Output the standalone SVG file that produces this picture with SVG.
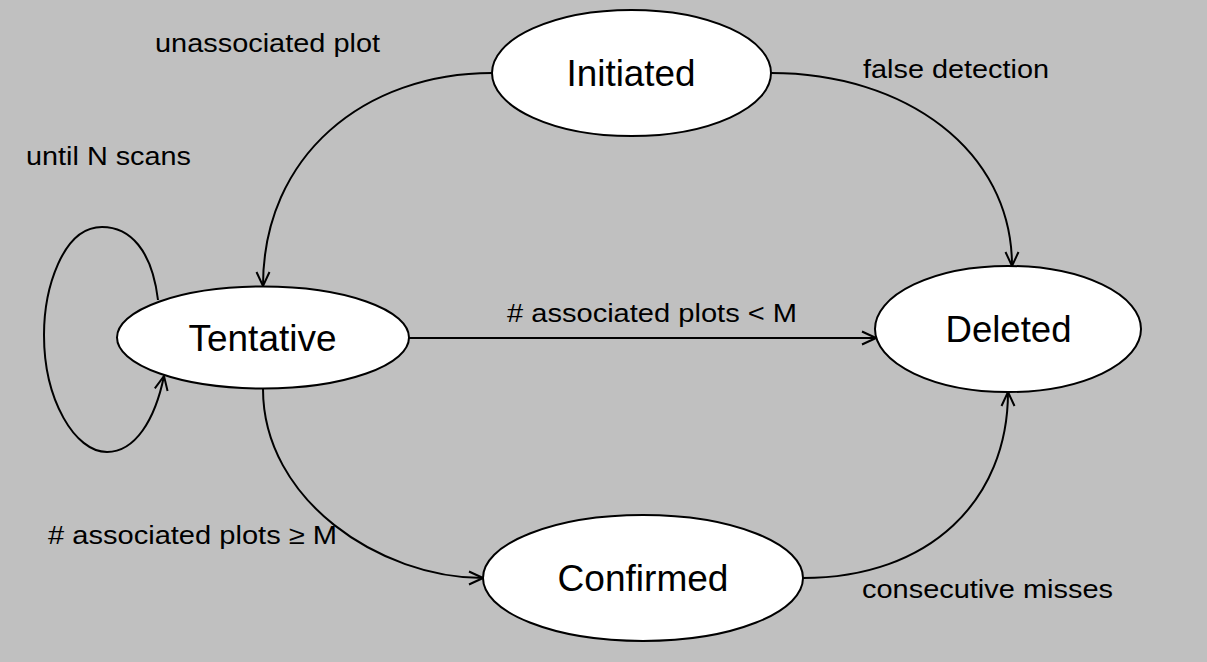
<svg xmlns="http://www.w3.org/2000/svg" width="1207" height="662" viewBox="0 0 1207 662">
<style>
.node{fill:#fff;stroke:#000;stroke-width:2}
.nt{font-family:"Liberation Sans",Arial,sans-serif;font-size:37px;fill:#000;text-anchor:middle}
.lb{font-family:"Liberation Sans",Arial,sans-serif;font-size:26px;fill:#000}
.edge{fill:none;stroke:#000;stroke-width:2}
</style>
<defs>
<marker id="arr" viewBox="0 0 16 16" refX="15" refY="8" markerWidth="16" markerHeight="16" markerUnits="userSpaceOnUse" orient="auto">
<path d="M1,1.5 L15,8 L1,14.5" fill="none" stroke="#000" stroke-width="2"/>
</marker>
</defs>
<rect width="1207" height="662" fill="#c0c0c0"/>
<g id="connectors">
<path class="edge" marker-end="url(#arr)" d="M492,73 C365,73 263,155 263,286"/>
<path class="edge" marker-end="url(#arr)" d="M771,73 C905,73 1012,150 1012,266"/>
<path class="edge" marker-end="url(#arr)" d="M409,338 L876,338"/>
<path class="edge" marker-end="url(#arr)" d="M263,389 C263,500 380,578 483,578"/>
<path class="edge" marker-end="url(#arr)" d="M803,578 C930,578 1008,500 1008,392"/>
<path class="edge" marker-end="url(#arr)" d="M158,300 C152,250 130,227 102,227 C62,227 44,290 44,335 C44,400 75,452 107,452 C135,452 155,420 164,376"/>
</g>
<g id="labels">
<text class="lb" x="155" y="52" textLength="225" lengthAdjust="spacingAndGlyphs">unassociated plot</text>
<text class="lb" x="26" y="165" textLength="165" lengthAdjust="spacingAndGlyphs">until N scans</text>
<text class="lb" x="863" y="78" textLength="186" lengthAdjust="spacingAndGlyphs">false detection</text>
<text class="lb" x="507" y="322" textLength="290" lengthAdjust="spacingAndGlyphs"># associated plots &lt; M</text>
<text class="lb" x="48" y="544" textLength="289" lengthAdjust="spacingAndGlyphs"># associated plots ≥ M</text>
<text class="lb" x="862" y="598" textLength="251" lengthAdjust="spacingAndGlyphs">consecutive misses</text>
</g>
<g id="initiated">
<ellipse class="node" cx="631.5" cy="73" rx="139.5" ry="63"/>
<text class="nt" x="631" y="86" textLength="129" lengthAdjust="spacingAndGlyphs">Initiated</text>
</g>
<g id="tentative">
<ellipse class="node" cx="263" cy="337.5" rx="146" ry="51"/>
<text class="nt" x="262.5" y="351" textLength="148" lengthAdjust="spacingAndGlyphs">Tentative</text>
</g>
<g id="deleted">
<ellipse class="node" cx="1008" cy="329" rx="133" ry="63"/>
<text class="nt" x="1008.5" y="342" textLength="126" lengthAdjust="spacingAndGlyphs">Deleted</text>
</g>
<g id="confirmed">
<ellipse class="node" cx="643" cy="578" rx="160" ry="63"/>
<text class="nt" x="643" y="591" textLength="171" lengthAdjust="spacingAndGlyphs">Confirmed</text>
</g>
</svg>
